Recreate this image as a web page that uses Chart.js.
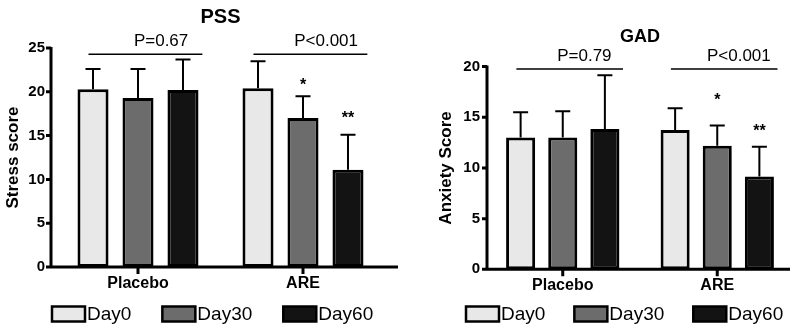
<!DOCTYPE html>
<html><head><meta charset="utf-8">
<script src="https://cdn.jsdelivr.net/npm/chart.js@4.4.0/dist/chart.umd.min.js"></script>
<style>
html,body{margin:0;padding:0;background:#fff;}
#wrap{position:relative;width:800px;height:333px;overflow:hidden;}
canvas{position:absolute;top:0;}
</style></head><body>
<div id="wrap">
<canvas id="pss" width="400" height="333" style="left:0px"></canvas>
<canvas id="gad" width="400" height="333" style="left:400px"></canvas>
</div>
<script>
// ---------- data ----------
const categories = ['Placebo', 'ARE'];
const seriesNames = ['Day0', 'Day30', 'Day60'];

const pssDay0 = [20.3, 20.4];
const pssDay30 = [19.3, 17.0];
const pssDay60 = [20.2, 11.1];
const pssSdDay0 = [2.3, 3.1];
const pssSdDay30 = [3.3, 2.5];
const pssSdDay60 = [3.5, 4.0];
const pssPValues = ['P=0.67', 'P<0.001'];
const pssPLevel = [24.3, 24.3];
const pssStars = [['', ''], ['', '*'], ['', '**']];
const pssStarLevel = [[0, 0], [0, 21.2], [0, 17.35]];
const pssTicks = [0, 5, 10, 15, 20, 25];

const gadDay0 = [13.0, 13.75];
const gadDay30 = [13.0, 12.2];
const gadDay60 = [13.85, 9.15];
const gadSdDay0 = [2.5, 2.15];
const gadSdDay30 = [2.6, 2.0];
const gadSdDay60 = [5.3, 2.95];
const gadPValues = ['P=0.79', 'P<0.001'];
const gadPLevel = [19.77, 19.77];
const gadStars = [['', ''], ['', '*'], ['', '**']];
const gadStarLevel = [[0, 0], [0, 17.0], [0, 13.95]];
const gadTicks = [0, 5, 10, 15, 20];

// ---------- styling ----------
const FONT = '"Liberation Sans", Arial, sans-serif';
const fills = ['#e8e8e8', '#6c6c6c', '#131313'];

const extrasPlugin = {
  id: 'extras',
  afterDatasetsDraw(chart, args, o) {
    const ctx = chart.ctx;
    const x = chart.scales.x, y = chart.scales.y;
    const ca = chart.chartArea;
    ctx.save();
    // error bars (upper only)
    ctx.strokeStyle = '#000';
    ctx.lineWidth = 2;
    chart.data.datasets.forEach((ds, i) => {
      const meta = chart.getDatasetMeta(i);
      meta.data.forEach((bar, j) => {
        const top = y.getPixelForValue(ds.data[j] + o.sd[i][j]);
        ctx.beginPath();
        ctx.moveTo(bar.x, bar.y);
        ctx.lineTo(bar.x, top);
        ctx.moveTo(bar.x - o.cap / 2, top);
        ctx.lineTo(bar.x + o.cap / 2, top);
        ctx.stroke();
        const s = o.stars[i][j];
        if (s) {
          ctx.fillStyle = '#000';
          ctx.font = 'bold 16px ' + FONT;
          ctx.textAlign = 'center';
          ctx.textBaseline = 'middle';
          ctx.fillText(s, bar.x, y.getPixelForValue(o.starLevel[i][j]) + 4);
        }
      });
    });
    // axes
    const base = y.getPixelForValue(0);
    ctx.lineWidth = 3;
    ctx.beginPath();
    ctx.moveTo(o.axisX, y.getPixelForValue(y.max) - 1);
    ctx.lineTo(o.axisX, base);
    ctx.moveTo(o.axisX - 5, base);
    ctx.lineTo(o.axisEnd, base);
    y.ticks.forEach(t => {
      const py = y.getPixelForValue(t.value);
      ctx.moveTo(o.axisX - 5, py);
      ctx.lineTo(o.axisX, py);
    });
    categories.forEach((c, k) => {
      const px = x.getPixelForValue(k);
      ctx.moveTo(px, base);
      ctx.lineTo(px, base + 7);
    });
    ctx.stroke();
    // significance lines
    const cw = x.getPixelForValue(1) - x.getPixelForValue(0);
    ctx.lineWidth = 1.5;
    ctx.fillStyle = '#000';
    ctx.font = '17px ' + FONT;
    ctx.textAlign = 'center';
    ctx.textBaseline = 'middle';
    categories.forEach((c, k) => {
      const cx = x.getPixelForValue(k);
      const py = y.getPixelForValue(o.pLevel[k]);
      ctx.beginPath();
      ctx.moveTo(cx - 0.30 * cw, py);
      ctx.lineTo(cx + 0.39 * cw, py);
      ctx.stroke();
      ctx.fillText(o.pValues[k], cx + 0.14 * cw, py - 12.5);
    });
    // legend
    ctx.font = '19px ' + FONT;
    ctx.textAlign = 'left';
    let lx = o.legendX;
    const ly = o.legendY;
    chart.data.datasets.forEach((ds, i) => {
      ctx.fillStyle = ds.backgroundColor;
      ctx.fillRect(lx, ly - 7.5, 33, 15);
      ctx.lineWidth = 2.5;
      ctx.strokeRect(lx, ly - 7.5, 33, 15);
      ctx.fillStyle = '#000';
      ctx.fillText(ds.label, lx + 35, ly + 1);
      lx += 35 + ctx.measureText(ds.label).width + o.legendGap;
    });
    ctx.restore();
  }
};

function makeChart(id, cfg) {
  const datasets = seriesNames.map((n, i) => ({
    label: n,
    data: cfg.values[i],
    backgroundColor: fills[i],
    borderColor: '#000',
    borderWidth: 3,
    borderSkipped: false,
    categoryPercentage: 0.818,
    barPercentage: 0.69
  }));
  return new Chart(document.getElementById(id), {
    type: 'bar',
    data: { labels: categories, datasets },
    plugins: [extrasPlugin],
    options: {
      responsive: false,
      animation: false,
      devicePixelRatio: 1,
      layout: { padding: { left: 0, right: cfg.padRight, top: 0, bottom: 0 } },
      plugins: {
        legend: { display: false },
        tooltip: { enabled: false },
        title: {
          display: true, text: cfg.title, fullSize: false, color: '#000',
          font: { family: FONT, size: cfg.titleSize, weight: 'bold' },
          padding: cfg.titlePad
        },
        extras: cfg.extras
      },
      scales: {
        x: {
          offset: true,
          grid: { display: false, drawTicks: true, tickLength: 6 },
          border: { display: false },
          ticks: { color: '#000', padding: 1, font: { family: FONT, size: 16, weight: 'bold' } },
          afterFit(s) { s.height = cfg.xHeight; }
        },
        y: {
          min: 0, max: cfg.ticks[cfg.ticks.length - 1],
          afterBuildTicks(s) { s.ticks = cfg.ticks.map(v => ({ value: v })); },
          grid: { display: false, drawTicks: true, tickLength: cfg.yTickLen },
          border: { display: false },
          ticks: { color: '#000', padding: 1, font: { family: FONT, size: 15, weight: 'bold' } },
          title: {
            display: true, text: cfg.yTitle, color: '#000',
            font: { family: FONT, size: 17, weight: 'bold' },
            padding: { top: cfg.yTitlePad, bottom: 0 }
          },
          afterFit(s) { s.width = cfg.areaLeft; }
        }
      }
    }
  });
}

makeChart('pss', {
  title: 'PSS', titleSize: 20, titlePad: { top: 5, bottom: 19 },
  yTitle: 'Stress score', yTitlePad: 3,
  values: [pssDay0, pssDay30, pssDay60],
  ticks: pssTicks,
  areaLeft: 55.5, padRight: 14.5, xHeight: 66, yTickLen: 9.5,
  extras: {
    sd: [pssSdDay0, pssSdDay30, pssSdDay60],
    stars: pssStars, starLevel: pssStarLevel,
    pValues: pssPValues, pLevel: pssPLevel,
    cap: 15, axisX: 51, axisEnd: 398,
    legendX: 52, legendY: 314, legendGap: 31
  }
});

makeChart('gad', {
  title: 'GAD', titleSize: 18, titlePad: { top: 26, bottom: 19 },
  yTitle: 'Anxiety Score', yTitlePad: 36,
  values: [gadDay0, gadDay30, gadDay60],
  ticks: gadTicks,
  areaLeft: 85.5, padRight: 5.5, xHeight: 63.7, yTickLen: 4.5,
  extras: {
    sd: [gadSdDay0, gadSdDay30, gadSdDay60],
    stars: gadStars, starLevel: gadStarLevel,
    pValues: gadPValues, pLevel: gadPLevel,
    cap: 15, axisX: 87, axisEnd: 390,
    legendX: 66, legendY: 314, legendGap: 29
  }
});
</script>
</body></html>
